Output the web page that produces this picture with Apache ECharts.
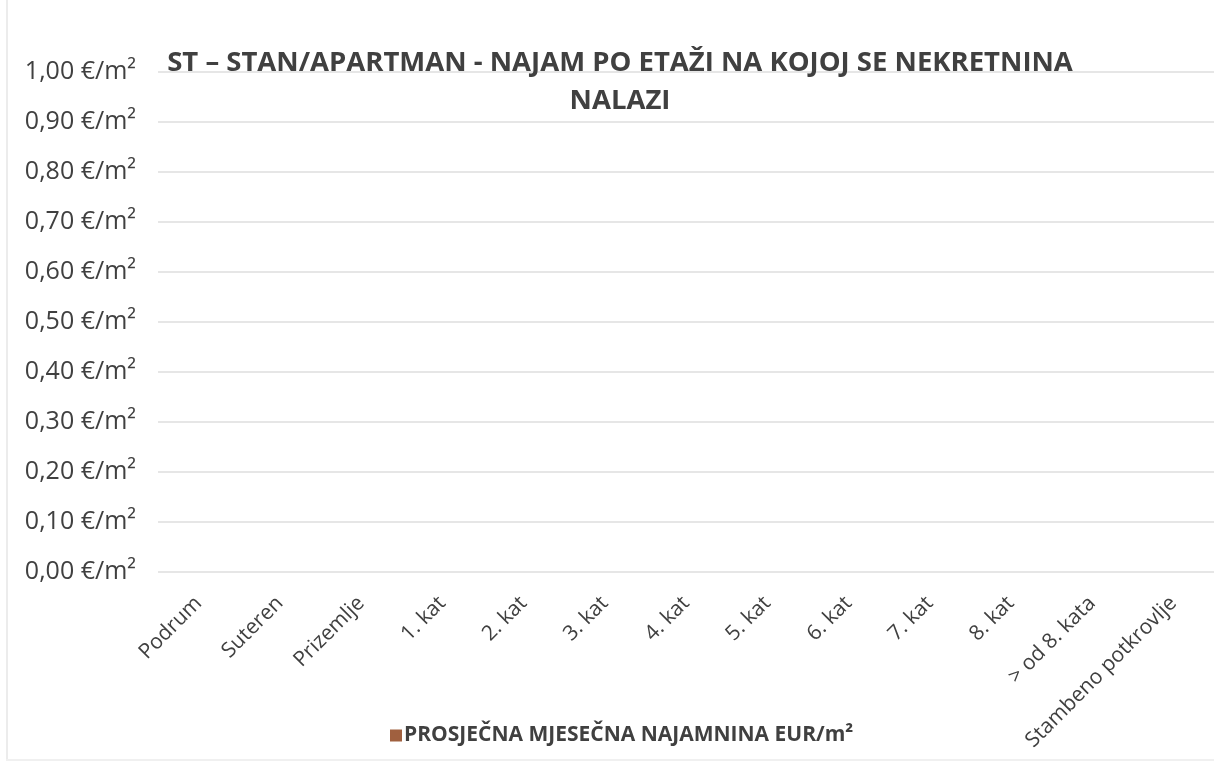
<!DOCTYPE html>
<html>
<head>
<meta charset="utf-8">
<script src="https://cdn.jsdelivr.net/npm/echarts@6/dist/echarts.min.js"></script>
<style>
  html, body { margin: 0; padding: 0; background: #fff; }
  #chart { width: 1214px; height: 767px; }
</style>
</head>
<body>
<div id="chart"></div>
<script>
// etaže (kategorije)
const categories = [
  "Podrum", "Suteren", "Prizemlje", "1. kat", "2. kat", "3. kat", "4. kat",
  "5. kat", "6. kat", "7. kat", "8. kat", "> od 8. kata", "Stambeno potkrovlje"
];
// prosječna mjesečna najamnina - nema podataka u izvorniku
const rentValues = [0, 0, 0, 0, 0, 0, 0, 0, 0, 0, 0, 0, 0];
const yTicks = [0, 0.1, 0.2, 0.3, 0.4, 0.5, 0.6, 0.7, 0.8, 0.9, 1.0];

const chart = echarts.init(document.getElementById("chart"));
const font = "'Open Sans', 'Noto Sans', sans-serif";

chart.setOption({
  backgroundColor: "#fff",
  textStyle: { fontFamily: font },
  title: {
    text: "ST – STAN/APARTMAN - NAJAM PO ETAŽI NA KOJOJ SE NEKRETNINA\nNALAZI",
    left: 615,
    top: 39,
    textAlign: "center",
    textStyle: {
      fontFamily: font,
      fontSize: 27.5,
      fontWeight: "bold",
      color: "#404040",
      lineHeight: 38,
    },
  },
  legend: {
    left: 385,
    top: 720,
    icon: "rect",
    itemWidth: 12,
    itemHeight: 12,
    itemGap: 4,
    textStyle: { fontSize: 21, fontWeight: "bold", color: "#404040", padding: [0, 0, 0, -3] },
    data: ["PROSJEČNA MJESEČNA NAJAMNINA EUR/m²"],
  },
  grid: { left: 158, top: 72, width: 1064, height: 500 },
  xAxis: {
    type: "category",
    data: categories,
    axisLine: { show: false },
    axisTick: { show: false },
    axisLabel: {
      rotate: 45,
      interval: 0,
      margin: 28,
      fontSize: 21,
      color: "#404040",
    },
  },
  yAxis: {
    type: "value",
    min: yTicks[0],
    max: yTicks[yTicks.length - 1],
    interval: 0.1,
    axisLine: { show: false },
    axisTick: { show: false },
    splitLine: { lineStyle: { color: "#e6e6e6", width: 2 } },
    axisLabel: {
      margin: 22,
      fontSize: 25,
      color: "#404040",
      formatter: (v) => v.toFixed(2).replace(".", ",") + " €/m²",
    },
  },
  series: [
    {
      name: "PROSJEČNA MJESEČNA NAJAMNINA EUR/m²",
      type: "bar",
      data: rentValues,
      itemStyle: { color: "#A0603F" },
    },
  ],
  graphic: [
    { type: "rect", shape: { x: 6, y: 0, width: 2, height: 760 }, style: { fill: "#ececec" } },
    { type: "rect", shape: { x: 6, y: 759, width: 1208, height: 2 }, style: { fill: "#f0f0f0" } },
  ],
});
</script>
</body>
</html>
